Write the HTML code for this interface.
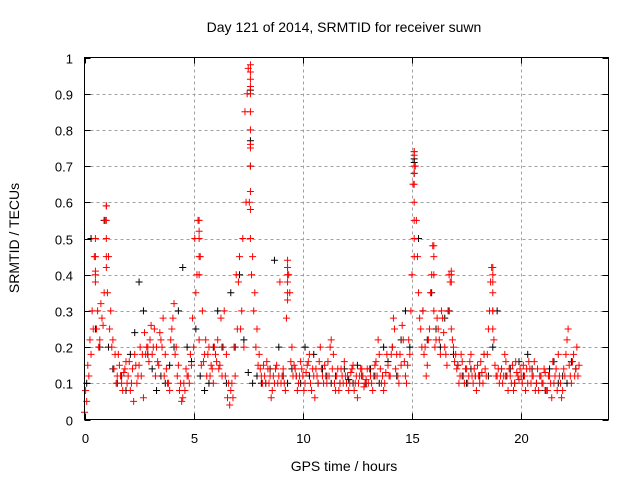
<!DOCTYPE html>
<html><head><meta charset="utf-8"><style>
body{margin:0;background:#fff}
svg{display:block;font-family:"Liberation Sans",sans-serif}
</style></head><body>
<svg id="c" width="640" height="480" viewBox="0 0 640 480">
<text x="344" y="32" font-size="14" text-anchor="middle">Day 121 of 2014, SRMTID for receiver suwn</text>
<text x="344" y="471" font-size="14" text-anchor="middle">GPS time / hours</text>
<text transform="translate(19,238) rotate(-90)" font-size="14" text-anchor="middle">SRMTID / TECUs</text>
<g id="grid"></g><g id="ticks"></g><g id="black"></g><g id="red"></g>
<rect x="84.5" y="57.5" width="524" height="362" fill="none" stroke="#000"/>
</svg>
<script>
const xTicks=[0,5,10,15,20];
const yTicks=[0,0.1,0.2,0.3,0.4,0.5,0.6,0.7,0.8,0.9,1];
const yTickLabels=["0","0.1","0.2","0.3","0.4","0.5","0.6","0.7","0.8","0.9","1"];
const tStep=0.1;
const redValues=[0.02,0.05,0.12,0.18,0.25,0.40,0.30,0.22,0.28,0.35,
0.59,0.45,0.30,0.22,0.18,0.12,0.15,0.10,0.13,0.16,
0.12,0.08,0.14,0.18,0.10,0.15,0.12,0.06,0.18,0.20,
0.22,0.18,0.25,0.20,0.15,0.22,0.28,0.18,0.10,0.08,
0.25,0.32,0.20,0.15,0.10,0.06,0.08,0.12,0.10,0.15,
0.20,0.35,0.55,0.45,0.30,0.18,0.12,0.20,0.15,0.10,
0.18,0.22,0.15,0.12,0.30,0.18,0.10,0.08,0.06,0.12,
0.25,0.45,0.30,0.20,0.60,0.97,0.75,0.45,0.35,0.25,
0.18,0.12,0.15,0.10,0.14,0.12,0.08,0.10,0.15,0.12,
0.10,0.14,0.08,0.42,0.35,0.20,0.15,0.12,0.10,0.16,
0.12,0.10,0.15,0.18,0.08,0.12,0.14,0.10,0.20,0.12,
0.15,0.10,0.12,0.22,0.18,0.08,0.14,0.10,0.12,0.16,
0.10,0.08,0.13,0.15,0.10,0.06,0.12,0.14,0.09,0.11,
0.10,0.12,0.08,0.15,0.12,0.18,0.10,0.08,0.13,0.15,
0.12,0.20,0.25,0.18,0.10,0.15,0.22,0.12,0.15,0.18,
0.40,0.74,0.55,0.35,0.25,0.30,0.20,0.15,0.25,0.40,
0.30,0.22,0.25,0.18,0.28,0.20,0.15,0.40,0.25,0.20,
0.18,0.15,0.12,0.16,0.10,0.14,0.12,0.18,0.10,0.12,
0.15,0.10,0.13,0.18,0.12,0.25,0.38,0.30,0.15,0.12,
0.10,0.14,0.12,0.16,0.08,0.12,0.15,0.10,0.13,0.11,
0.12,0.15,0.08,0.10,0.14,0.12,0.16,0.10,0.08,0.12,
0.10,0.13,0.08,0.12,0.06,0.10,0.14,0.18,0.10,0.08,
0.12,0.22,0.15,0.10,0.18,0.14,0.12];
const redValues2=[0.08,0.15,0.22,0.30,0.45,0.25,0.20,0.32,0.26,0.55,
0.35,0.25,0.20,0.14,0.10,0.18,0.12,0.08,0.14,0.10,
0.16,0.10,0.05,0.15,0.12,0.20,0.18,0.24,0.20,0.16,
0.26,0.20,0.12,0.16,0.24,0.20,0.12,0.14,0.10,0.22,
0.28,0.18,0.12,0.08,0.05,0.10,0.14,0.12,0.18,0.28,
0.50,0.40,0.22,0.15,0.16,0.22,0.18,0.12,0.14,0.20,
0.16,0.14,0.28,0.20,0.12,0.06,0.04,0.10,0.20,0.40,
0.38,0.25,0.50,0.85,0.90,0.60,0.40,0.30,0.20,0.15,
0.14,0.10,0.12,0.16,0.10,0.06,0.12,0.14,0.10,0.38,
0.12,0.10,0.28,0.40,0.16,0.12,0.14,0.08,0.12,0.14,
0.08,0.13,0.16,0.10,0.14,0.06,0.12,0.16,0.14,0.10,
0.12,0.16,0.20,0.14,0.10,0.12,0.08,0.14,0.10,0.12,
0.12,0.10,0.14,0.08,0.12,0.10,0.14,0.12,0.10,0.14,
0.14,0.10,0.12,0.16,0.22,0.14,0.12,0.10,0.18,0.12,
0.18,0.28,0.14,0.12,0.18,0.26,0.16,0.10,0.22,0.30,
0.65,0.70,0.45,0.28,0.20,0.18,0.12,0.22,0.35,0.48,
0.20,0.28,0.22,0.30,0.24,0.18,0.30,0.38,0.22,0.16,
0.14,0.10,0.18,0.12,0.14,0.10,0.16,0.12,0.14,0.08,
0.12,0.16,0.10,0.14,0.18,0.30,0.42,0.22,0.12,0.14,
0.12,0.10,0.18,0.12,0.14,0.10,0.08,0.16,0.12,0.14,
0.10,0.12,0.14,0.16,0.10,0.12,0.08,0.14,0.12,0.10,
0.14,0.08,0.12,0.10,0.16,0.12,0.08,0.12,0.06,0.14,
0.18,0.25,0.12,0.16,0.12,0.20,0.15];
const spikeTimes=[1.0,1.0,1.0,1.0,1.0,0.5,0.5,0.5,0.5,
5.25,5.25,5.25,5.25,5.25,
7.6,7.6,7.6,7.6,7.6,7.6,7.6,7.6,7.6,7.6,7.6,7.6,
15.1,15.1,15.1,15.1,15.1,15.1,15.1,15.1,15.1,
18.7,18.7,18.7,18.7,18.7,18.7,
16.0,16.0,16.0,16.8,16.8,16.8,
9.3,9.3,9.3,9.3,9.3,9.3];
const spikeValues=[0.59,0.55,0.50,0.45,0.42,0.50,0.45,0.41,0.38,
0.55,0.52,0.50,0.45,0.40,
0.98,0.96,0.94,0.92,0.90,0.85,0.80,0.76,0.70,0.63,0.58,0.50,
0.74,0.73,0.70,0.68,0.65,0.60,0.55,0.50,0.45,
0.42,0.40,0.38,0.35,0.30,0.25,
0.48,0.45,0.40,0.41,0.40,0.38,
0.44,0.42,0.40,0.38,0.35,0.33];
const blackSpikeTimes=[7.6,7.6,7.6,15.1,15.1];
const blackSpikeValues=[0.91,0.77,0.70,0.71,0.68];
const blackValues=[0.10,0.50,0.25,0.20,0.55,0.20,0.14,0.10,0.12,0.08,
0.18,0.24,0.38,0.30,0.18,0.14,0.08,0.12,0.10,0.15,
0.20,0.30,0.42,0.20,0.16,0.25,0.12,0.08,0.10,0.20,
0.30,0.20,0.10,0.35,0.20,0.40,0.22,0.13,0.10,0.12,
0.10,0.10,0.14,0.44,0.20,0.12,0.10,0.14,0.12,0.10,
0.20,0.12,0.18,0.10,0.14,0.12,0.10,0.12,0.10,0.14,
0.11,0.10,0.15,0.12,0.10,0.14,0.12,0.10,0.20,0.16,
0.20,0.12,0.22,0.30,0.20,0.72,0.50,0.30,0.22,0.35,
0.25,0.20,0.28,0.30,0.18,0.15,0.12,0.10,0.14,0.12,
0.12,0.18,0.12,0.20,0.30,0.14,0.12,0.14,0.10,0.16,
0.12,0.18,0.14,0.10,0.12,0.08,0.14,0.16,0.10,0.12,
0.10,0.16,0.14];
const X0=84.5,X1=608.5,XMAX=24,Y0=419.5,Y1=57.5;
const xs=v=>X0+(v/XMAX)*(X1-X0);
const ys=v=>Y0-v*(Y0-Y1);
const NS="http://www.w3.org/2000/svg";
function mk(tag,attrs,parent){const e=document.createElementNS(NS,tag);for(const k in attrs)e.setAttribute(k,attrs[k]);parent.appendChild(e);return e;}
const grid=document.getElementById('grid'),ticks=document.getElementById('ticks');
xTicks.forEach(t=>{const x=Math.round(xs(t))+0.5;
 if(t>0){const g=mk('line',{x1:x,x2:x,y1:Y1,y2:Y0,stroke:'#a0a0a0','stroke-dasharray':'3,3'},grid);
 }
 const tk=mk('path',{d:`M${x} ${Y0}v-6M${x} ${Y1}v6`,stroke:'#000'},ticks);
 
 const l=mk('text',{x:x,y:443,'font-size':13,'text-anchor':'middle'},ticks);l.textContent=t;
 });
yTicks.forEach((t,i)=>{const y=Math.round(ys(t))+0.5;
 if(t>0&&t<1){const g=mk('line',{x1:X0,x2:X1,y1:y,y2:y,stroke:'#a0a0a0','stroke-dasharray':'3,3'},grid);
 }
 const tk=mk('path',{d:`M${X0} ${y}h6M${X1} ${y}h-6`,stroke:'#000'},ticks);
 
 const l=mk('text',{x:73,y:y+5,'font-size':13,'text-anchor':'end'},ticks);l.textContent=yTickLabels[i];
 });
function plus(g,t,v,col){const x=xs(t),y=ys(v);
 return mk('path',{d:`M${x-3.5} ${y}h7M${x} ${y-3.5}v7`,stroke:col,'stroke-width':1},g);}
const bg=document.getElementById('black'),rg=document.getElementById('red');
blackValues.forEach((v,i)=>{const p=plus(bg,0.1+i*0.2,v,'#000');
 });
blackSpikeValues.forEach((v,i)=>{const p=plus(bg,blackSpikeTimes[i],v,'#000');
 });
redValues.forEach((v,i)=>{const p=plus(rg,i*tStep,v,'#ff0000');
 });
redValues2.forEach((v,i)=>{const p=plus(rg,0.05+i*tStep,v,'#ff0000');
 });
spikeValues.forEach((v,i)=>{const p=plus(rg,spikeTimes[i],v,'#ff0000');
 });
</script>
</body></html>
